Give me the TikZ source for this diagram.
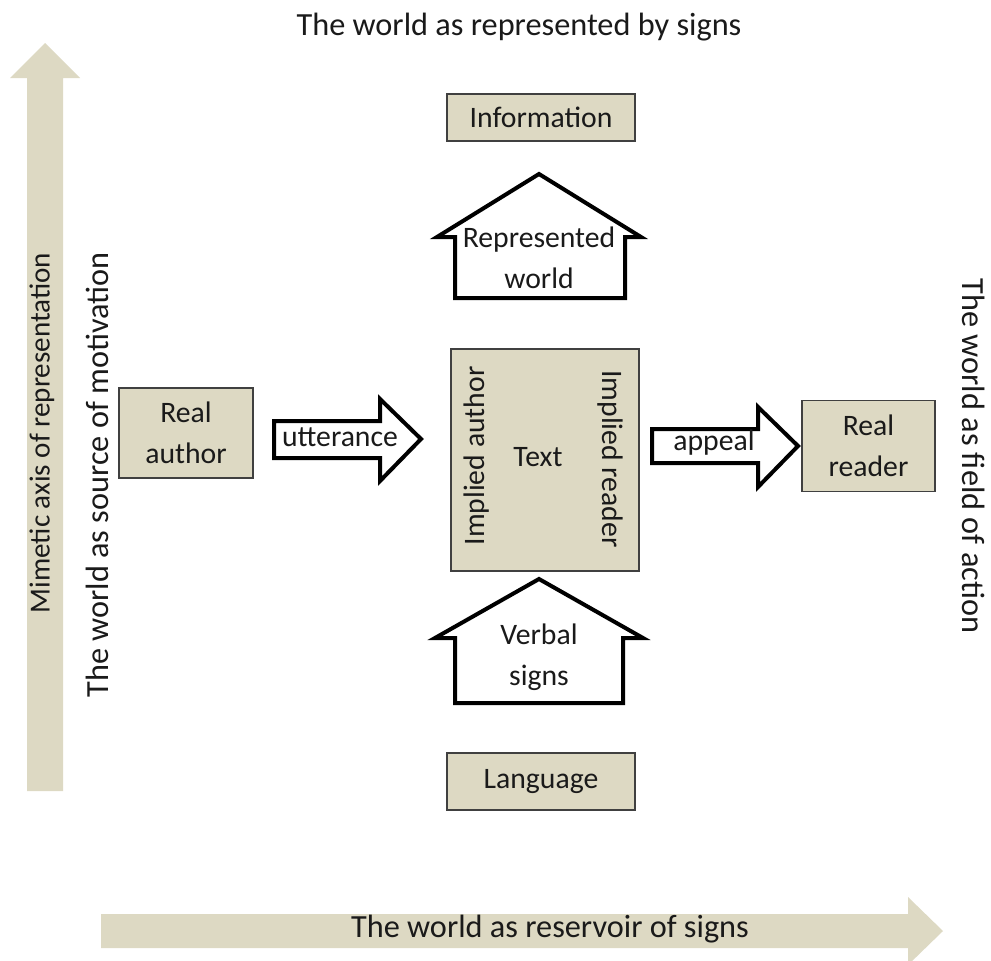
\documentclass[tikz,border=0pt]{standalone}
\usepackage{fontspec}
\setmainfont{Carlito}
\definecolor{tan}{HTML}{DDD9C3}
\definecolor{ink}{HTML}{1A1A1A}
\begin{document}
\begin{tikzpicture}[x=1pt,y=-1pt,
  every node/.style={font=\fontsize{29.7}{41.5}\selectfont, text=ink},
  bigtext/.style={font=\fontsize{32.3}{40}\selectfont},
  tanbox/.style={draw=black!75, line width=1.5pt, fill=tan, inner sep=0pt, align=center},
  outline/.style={draw=black, line width=4pt, fill=white, line join=miter, miter limit=10},
  axisarrow/.style={fill=tan, draw=none},
  lbl/.style={align=center, inner sep=0pt}]
\useasboundingbox (0,0) rectangle (991,961);

% axis arrows
\fill[axisarrow] (27,791) -- (27,78) -- (10,78) -- (45,43) -- (80,78) -- (63,78) -- (63,791) -- cycle;
\fill[axisarrow] (101,914) -- (908,914) -- (908,897) -- (943,931) -- (908,965) -- (908,948) -- (101,948) -- cycle;

% titles
\node[lbl, bigtext] (ttop) at (519,27) {The world as represented by signs};
\node[lbl, bigtext] (tbottom) at (550,929) {The world as reservoir of signs};
\node[lbl, font=\fontsize{29.1}{40}\selectfont, rotate=90] (tmimetic) at (42,433) {Mimetic axis of representation};
\node[lbl, bigtext, rotate=90] (tsource) at (97,475) {The world as source of motivation};
\node[lbl, bigtext, rotate=-90] (tfield) at (974,456) {The world as field of action};

% boxes
\node[tanbox, minimum width=188, minimum height=47] (info) at (541,117.5) {Information};
\node[tanbox, minimum width=188, minimum height=57] (lang) at (541,781.5) {Language};
\node[tanbox, minimum width=134, minimum height=90] (rauthor) at (186,433) {Real\\author};
\node[tanbox, minimum width=133, minimum height=91] (rreader) at (868.5,446) {Real\\reader};
\node[tanbox, minimum width=188, minimum height=222] (textbox) at (545,460) {};
\node[lbl] (text) at (538,457) {Text};
\node[lbl, rotate=90] (iauthor) at (477,456) {Implied author};
\node[lbl, rotate=-90] (ireader) at (610,459) {Implied reader};

% house arrows
\draw[outline] (455,298) -- (455,237) -- (437,237) -- (539,174) -- (641,237) -- (625,237) -- (625,298) -- cycle;
\node[lbl] (repworld) at (539,258) {Represented\\world};
\draw[outline] (455,703) -- (455,638) -- (435,638) -- (539,579) -- (643,638) -- (623,638) -- (623,703) -- cycle;
\node[lbl] (verbal) at (539,657) {Verbal\\signs};

% block arrows
\draw[outline] (274,421) -- (380,421) -- (380,399) -- (421,439) -- (380,481) -- (380,458) -- (274,458) -- cycle;
\node[lbl] (utter) at (340,437) {utterance};
\draw[outline] (652,429) -- (758,429) -- (758,407) -- (798,446) -- (758,487) -- (758,463) -- (652,463) -- cycle;
\node[lbl] (appeal) at (714,443) {appeal};
\end{tikzpicture}
\end{document}
